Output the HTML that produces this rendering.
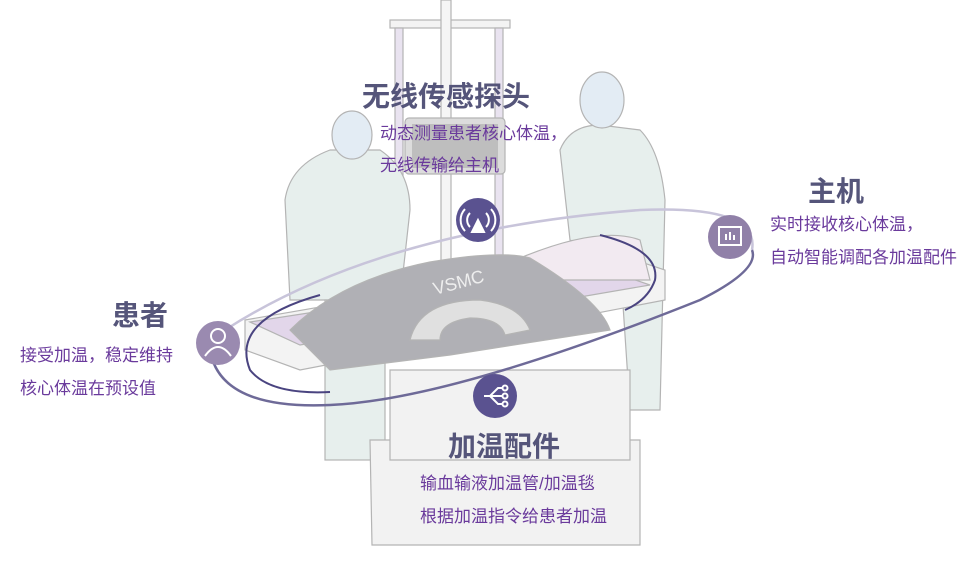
<!DOCTYPE html>
<html><head><meta charset="utf-8"><style>
body{margin:0;width:980px;height:580px;background:#fff;overflow:hidden;font-family:"Liberation Sans","Noto Sans CJK SC",sans-serif}
.t{position:absolute;color:#55557a;font-weight:bold;font-size:28px;white-space:nowrap}
.d{position:absolute;color:#6a3a9c;font-size:17px;line-height:33px;white-space:nowrap}
</style></head><body>
<svg width="980" height="580" style="position:absolute;left:0;top:0">
<g stroke="#b4b4b4" stroke-width="1.2" fill="#eef2f0">
<rect x="390" y="20" width="120" height="8" fill="#f3f3f3"/>
<rect x="395" y="28" width="8" height="270" fill="#e9e3f0"/>
<rect x="495" y="28" width="8" height="270" fill="#e9e3f0"/>
<rect x="441" y="0" width="10" height="300" fill="#f5f5f5"/>
<rect x="405" y="118" width="100" height="56" rx="4" fill="#dcdcdc"/>
<rect x="412" y="124" width="86" height="44" fill="#9a9a9a" stroke="none" opacity=".45"/>
<path d="M285 200 Q290 165 330 150 L380 150 Q410 170 410 210 L400 300 L290 300 Z" fill="#e7efed"/>
<ellipse cx="352" cy="135" rx="20" ry="24" fill="#e3ecf4"/>
<rect x="325" y="300" width="60" height="160" fill="#e7efed"/>
<path d="M560 150 Q570 125 600 125 L640 130 Q660 150 665 200 L660 410 L630 410 L620 260 L570 240 Z" fill="#e7efed"/>
<ellipse cx="602" cy="100" rx="22" ry="28" fill="#e3ecf4"/>
<path d="M370 440 L372 545 L640 545 L640 440 Z" fill="#f2f2f2"/>
<path d="M390 370 L630 370 L630 460 L390 460 Z" fill="#f2f2f2"/>
<path d="M245 320 L620 255 L665 270 L665 300 L300 370 L245 350 Z" fill="#f3f3f3"/>
<path d="M250 322 L600 268 L650 285 L300 345 Z" fill="#e2d6ea"/>
<path d="M520 258 Q600 225 640 240 L650 280 L560 280 Z" fill="#f2eaf1"/>
<path d="M290 330 Q340 280 430 262 Q500 250 530 258 Q600 300 610 330 L450 355 L330 370 Z" fill="#b0b0b5"/>
<path d="M410 340 Q420 300 480 300 Q520 305 530 330 L505 335 Q500 318 470 318 Q440 322 440 340 Z" fill="#e0e0e0"/>
</g>
<text x="435" y="295" fill="#eee" font-size="18" transform="rotate(-15 435 295)" font-family="Liberation Sans">VSMC</text>
<path d="M225 330 Q380 230 640 210 Q760 205 752 250" fill="none" stroke="#c8c4da" stroke-width="2.5"/>
<path d="M210 350 Q220 410 330 405 Q450 400 700 300 Q760 270 752 250" fill="none" stroke="#6e6a98" stroke-width="2.5"/>
<path d="M320 295 Q230 320 250 370 Q270 395 330 392" fill="none" stroke="#4a4480" stroke-width="2"/>
<path d="M600 235 Q660 250 655 280 Q648 300 625 310" fill="none" stroke="#4a4480" stroke-width="2"/>
<circle cx="478" cy="220" r="22" fill="#5a5290"/>
<circle cx="218" cy="343" r="22" fill="#9a8ab0"/>
<circle cx="730" cy="237" r="22" fill="#9080a8"/>
<circle cx="495" cy="396" r="22" fill="#5a5290"/>
<g stroke="#fff" stroke-width="2" fill="none">
<path d="M470 213 a10 10 0 0 0 0 14 M486 213 a10 10 0 0 1 0 14 M465 209 a16 16 0 0 0 0 22 M491 209 a16 16 0 0 1 0 22"/>
<path d="M478 220 L472 232 L484 232 Z" fill="#fff"/>
<circle cx="218" cy="336" r="7"/><path d="M205 356 Q218 338 231 356"/>
<rect x="719" y="227" width="22" height="18"/><path d="M726 240 v-6 M730 240 v-8 M734 240 v-5"/>
<path d="M484 396 h6 l8 -8 h4 M490 396 h12 M490 396 l8 8 h4"/>
<circle cx="505" cy="388" r="2.5"/><circle cx="505" cy="396" r="2.5"/><circle cx="505" cy="404" r="2.5"/>
</g>
</svg>
<div class="t" style="left:362px;top:75px">无线传感探头</div>
<div class="d" style="left:380px;top:118px;line-height:32px">动态测量患者核心体温，<br>无线传输给主机</div>
<div class="t" style="left:808px;top:170px">主机</div>
<div class="d" style="left:770px;top:208px;line-height:33px">实时接收核心体温，<br>自动智能调配各加温配件</div>
<div class="t" style="left:112px;top:294px">患者</div>
<div class="d" style="left:20px;top:339px;line-height:33px">接受加温，稳定维持<br>核心体温在预设值</div>
<div class="t" style="left:448px;top:425px">加温配件</div>
<div class="d" style="left:420px;top:467px;line-height:33px">输血输液加温管/加温毯<br>根据加温指令给患者加温</div>
</body></html>
